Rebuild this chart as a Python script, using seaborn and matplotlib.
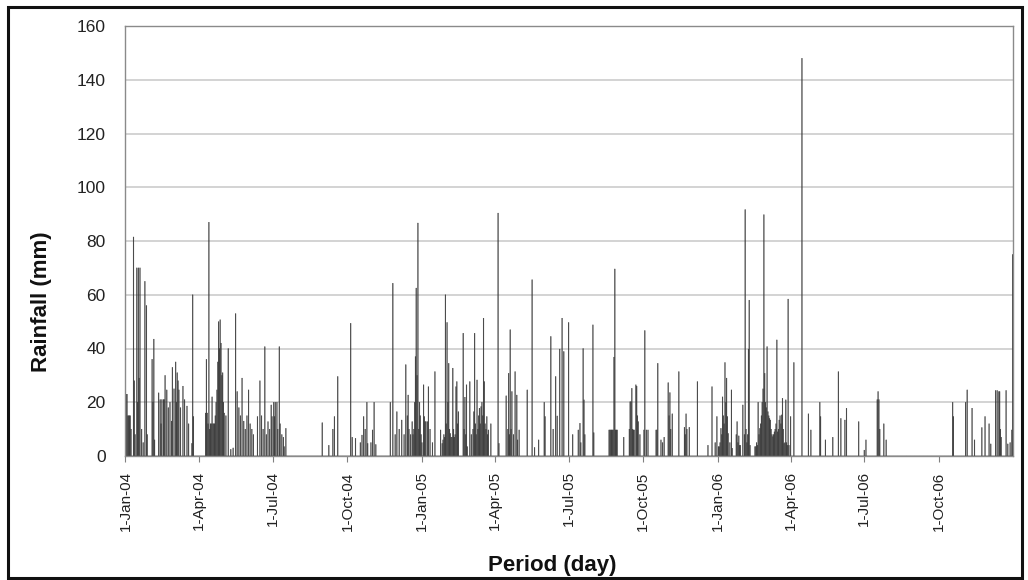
import numpy as np
import pandas as pd
import matplotlib
matplotlib.use("Agg")
import matplotlib.pyplot as plt
import seaborn as sns

# Daily rainfall, 1-Jan-04 .. 31-Dec-06 (day number counted from 1-Jan-04, mm)
# only rainy days are listed, every other day is 0
rain_2004 = [
    (0, 77), (1, 23), (2, 23), (3, 15), (4, 15), (5, 15), (6, 15), (7, 10),
    (10, 81.5), (11, 28), (12, 8), (14, 70), (15, 20), (16, 70), (17, 29),
    (18, 70), (20, 10), (22, 5), (24, 65), (26, 56), (27, 8), (33, 36),
    (34, 20), (35, 43.5), (36, 6), (41, 23.5), (43, 21), (44, 12), (45, 21),
    (47, 21), (48, 21), (49, 30), (51, 24.6), (53, 18), (55, 20), (57, 13),
    (58, 33), (60, 25), (62, 35), (63, 20), (64, 31), (65, 28), (66, 24.6),
    (68, 18), (71, 26), (73, 21), (76, 18.6), (78, 12), (82, 4.7), (83, 60),
    (84, 14.7), (99, 16), (100, 36), (101, 16), (102, 12), (103, 87),
    (104, 10), (105, 12), (106, 12), (107, 22), (108, 12), (109, 12),
    (110, 12), (111, 15), (112, 20), (113, 24.6), (114, 35), (115, 50),
    (116, 40), (117, 50.7), (118, 42), (119, 30), (120, 31), (121, 20),
    (122, 16), (124, 15), (127, 40), (130, 2.5), (133, 3), (136, 53),
    (138, 24), (140, 18), (142, 15), (144, 29), (146, 13), (148, 10),
    (150, 15), (152, 24.6), (154, 12), (156, 10), (158, 8), (163, 14.7),
    (166, 28), (168, 15), (170, 10), (172, 40.7), (174, 8), (176, 12.8),
    (178, 10), (180, 19), (181, 14.7), (183, 20), (184, 14.7), (185, 20),
    (187, 20), (188, 10), (190, 40.7), (191, 12), (193, 8), (195, 7),
    (196, 3.5), (198, 10.3), (243, 12.4), (251, 4), (256, 10), (258, 14.7),
    (262, 29.6), (278, 49.4), (280, 7), (284, 6.6), (290, 5), (292, 7.8),
    (294, 14.7), (296, 10), (298, 20), (299, 4.7), (303, 5), (305, 9.7),
    (307, 20), (309, 4.3), (327, 20), (330, 64.3), (333, 8), (335, 16.5),
    (338, 10), (341, 13.4), (344, 8), (346, 34), (348, 15), (349, 22.7),
    (350, 10), (352, 8), (354, 12.8), (355, 8), (356, 10), (357, 20),
    (358, 37), (359, 62.5), (360, 30), (361, 86.7), (362, 10), (363, 20),
    (364, 15), (365, 8),
]
rain_2005 = [
    (366, 5), (368, 26.5), (369, 14.7), (370, 12.8), (371, 12.8), (373, 12.8),
    (374, 25.8), (376, 10), (379, 5), (382, 31.4), (389, 9.7), (391, 4.7),
    (392, 6), (393, 8), (394, 7), (395, 60), (396, 12), (397, 49.7),
    (398, 20), (399, 34.5), (400, 10), (401, 8.4), (402, 7), (403, 7),
    (404, 32.7), (405, 10), (406, 7), (407, 8), (408, 25.8), (409, 27.7),
    (410, 12), (411, 16.5), (417, 45.7), (418, 10), (419, 21.9), (420, 8),
    (421, 26.5), (422, 3.5), (425, 27.7), (427, 8), (429, 10), (430, 16.5),
    (431, 45.7), (432, 12), (433, 8), (434, 28.3), (435, 10), (436, 15),
    (437, 17.8), (438, 12), (439, 18.4), (440, 20), (441, 15), (442, 51.3),
    (443, 27.7), (444, 12), (445, 10), (446, 14.7), (447, 8), (448, 9.7),
    (451, 12), (460, 90.4), (461, 4.7), (470, 22.4), (472, 10), (473, 30.8),
    (474, 8), (475, 47), (476, 10), (477, 24), (479, 8), (481, 31.4),
    (483, 22.7), (484, 6), (486, 9.7), (496, 24.6), (502, 65.6), (505, 3.2),
    (510, 6), (517, 20), (518, 14.7), (525, 44.5), (528, 10), (531, 29.6),
    (533, 14.9), (536, 39.8), (539, 51.3), (541, 38.9), (547, 49.7),
    (552, 8), (559, 9.7), (561, 12.2), (562, 5), (565, 40), (566, 20.9),
    (567, 8), (577, 48.8), (578, 8.7), (597, 9.7), (598, 9.7), (599, 9.7),
    (600, 9.7), (601, 9.7), (602, 9.7), (603, 36.8), (604, 69.6), (605, 9.7),
    (606, 9.7), (607, 9.7), (615, 7), (622, 10), (623, 20.2), (624, 20.2),
    (625, 25.2), (626, 10), (627, 9.7), (628, 9.7), (630, 26.5), (631, 26),
    (632, 15), (633, 12.8), (635, 8), (640, 9.7), (641, 46.7), (643, 9.7),
    (645, 9.7), (655, 9.7), (656, 9.7), (657, 34.5), (661, 6), (663, 5),
    (665, 7), (670, 27.3), (671, 15), (672, 23.6), (673, 10), (675, 15.7),
    (683, 31.4), (690, 10.7), (691, 8), (692, 15.7), (693, 10), (696, 10.7),
    (706, 27.7), (719, 4), (724, 25.8), (728, 5), (730, 14.7),
]
rain_2006 = [
    (732, 3.5), (733, 3.5), (734, 5), (735, 10.3), (736, 8), (737, 22),
    (738, 15), (739, 12), (740, 34.8), (741, 20), (742, 29), (743, 14.7),
    (744, 8.4), (746, 5), (748, 24.6), (749, 2.9), (754, 8), (755, 12.8),
    (756, 5), (757, 7.5), (758, 4), (759, 4), (762, 19), (764, 8),
    (765, 91.7), (766, 10), (767, 5), (768, 8), (769, 39.8), (770, 58),
    (771, 4), (777, 3.5), (778, 3.5), (779, 5), (780, 4), (781, 20),
    (782, 8), (783, 10.3), (784, 12), (785, 15), (786, 20), (787, 25),
    (788, 89.8), (789, 30.8), (790, 20), (791, 18), (792, 40.7), (793, 16.5),
    (794, 15), (795, 14), (796, 13.4), (797, 10), (798, 8), (799, 7.2),
    (800, 8), (801, 9), (802, 10), (803, 12), (804, 43.2), (805, 9),
    (806, 10), (807, 13.4), (808, 15), (809, 12), (810, 15.3), (811, 21.5),
    (812, 10), (813, 4.7), (814, 5), (815, 20.9), (816, 5), (817, 4),
    (818, 58.4), (819, 4), (821, 14.7), (825, 34.8), (835, 148), (843, 15.7),
    (846, 9.7), (857, 20), (858, 14.7), (864, 6), (873, 7), (880, 31.4),
    (883, 14), (888, 13.4), (890, 17.8), (905, 12.8), (912, 2.2), (914, 6),
    (928, 21), (929, 24), (930, 21), (931, 10), (936, 12), (939, 6),
    (1021, 20), (1022, 14.7), (1037, 20), (1039, 24.6), (1045, 17.8),
    (1048, 6), (1057, 10.6), (1061, 14.7), (1066, 12), (1068, 4.5),
    (1074, 24.4), (1076, 24.4), (1078, 24), (1079, 24), (1080, 10), (1081, 7),
    (1087, 24.4), (1089, 4.5), (1092, 5), (1094, 9.7), (1095, 75),
]

start = pd.Timestamp("2004-01-01")
end = pd.Timestamp("2006-12-31")
tick_dates = pd.date_range(start, "2006-10-01", freq="QS")

n_days = (end - start).days + 1
df = pd.DataFrame({"day": np.arange(n_days), "rain": 0.0})
for d, v in rain_2004 + rain_2005 + rain_2006:
    df.loc[d, "rain"] = v

sns.set_style("white")
plt.rcParams["font.family"] = ["Liberation Sans", "DejaVu Sans"]

fig = plt.figure(figsize=(10.28, 5.80), dpi=100)
ax = fig.add_axes([125 / 1028, 124 / 580, 888 / 1028, 430 / 580])

sns.barplot(data=df, x="day", y="rain", native_scale=True, width=1.0,
            color="#383838", saturation=1, linewidth=0.2, edgecolor="#383838",
            errorbar=None, ax=ax)
# bars are thinner than a pixel: don't let them snap to zero width
for p in ax.patches:
    p.set_snap(False)
    p.set_antialiased(True)

ax.set_xlim(-0.5, n_days - 0.5)
ax.set_ylim(0, 160)
ax.set_yticks(range(0, 161, 20))
ax.yaxis.grid(True, color="#d0d0d0", linewidth=1.3)
ax.set_axisbelow(True)

tick_pos = [(t - start).days for t in tick_dates]
tick_lab = [f"{t.day}-{t.strftime('%b-%y')}" for t in tick_dates]
ax.set_xticks(tick_pos)
ax.set_xticklabels(tick_lab, rotation=90, fontsize=11, color="#222222")
ax.tick_params(axis="x", length=4, width=0.8, color="#808080", pad=7, bottom=True)
ax.tick_params(axis="y", length=0, pad=14, labelsize=12.5, labelcolor="#222222")

for s in ax.spines.values():
    s.set_color("#8a8a8a")
    s.set_linewidth(1)

ax.set_xlabel("Period (day)", fontsize=16, fontweight="bold", color="#111111")
ax.set_ylabel("Rainfall (mm)", fontsize=16, fontweight="bold", color="#111111")
ax.xaxis.set_label_coords(0.481, -0.23)
ax.yaxis.set_label_coords(-0.082, 0.36)

# chart area border
fig.patches.append(plt.Rectangle((8 / 1028, 2 / 580), 1014 / 1028, 571 / 580,
                                 transform=fig.transFigure, fill=False,
                                 edgecolor="#111111", linewidth=2.2))

fig.savefig("out.png", dpi=100)
